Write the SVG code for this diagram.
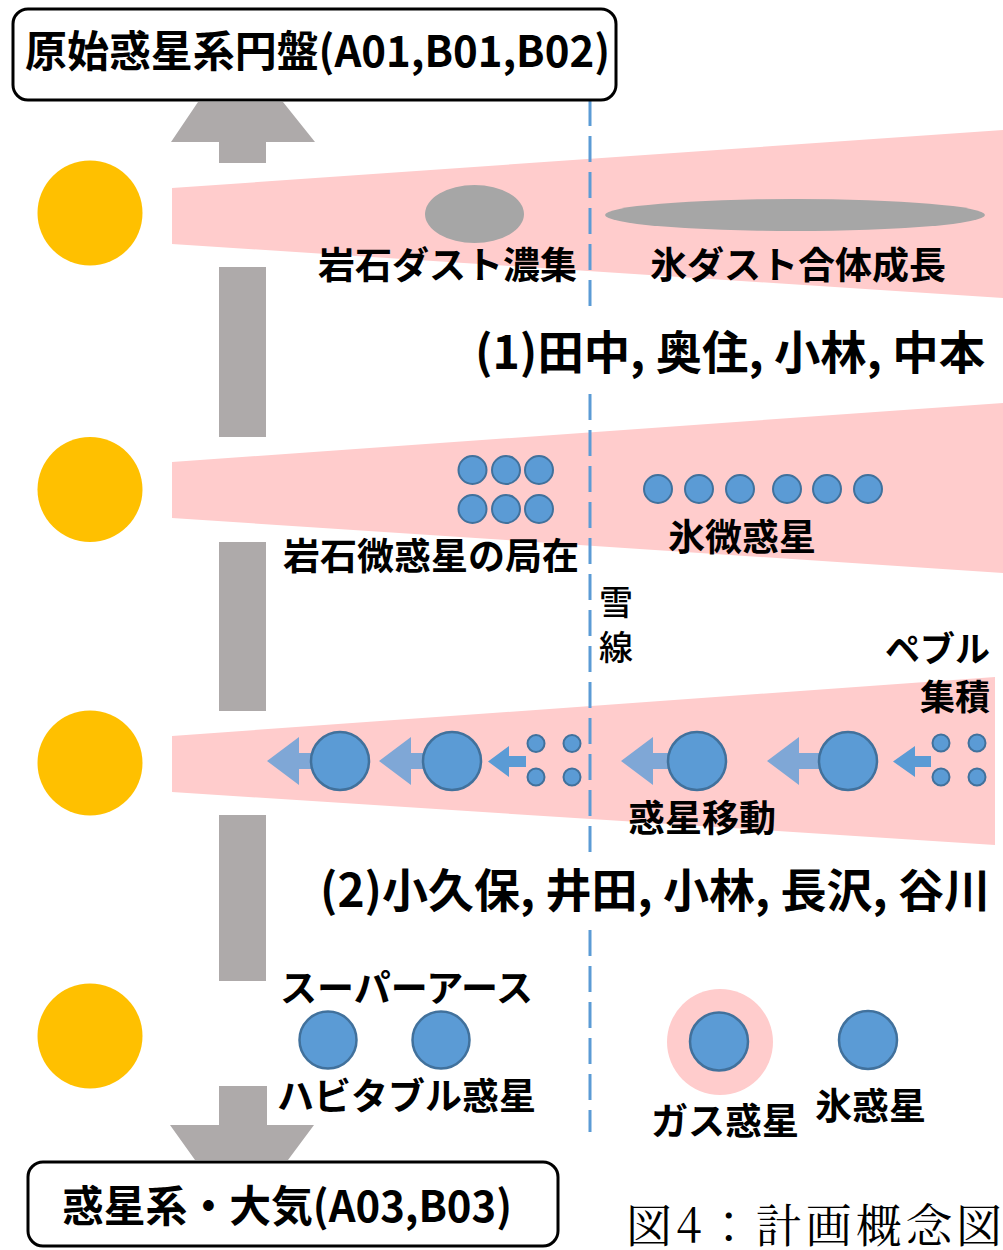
<svg xmlns="http://www.w3.org/2000/svg" width="1003" height="1250" viewBox="0 0 1003 1250">
<defs>
<style>
.t{font-family:"Noto Sans CJK JP","Noto Sans",sans-serif;fill:#000}
.b{font-weight:700}
.lbl{font-size:37px;font-weight:700}
.sun{fill:#FFC000}
.disk{fill:#FFCCCC}
.gr{fill:#AEAAAA}
.pl{fill:#5B9BD5;stroke:#41719C;stroke-width:2.5}
.sp{fill:#5B9BD5;stroke:#41719C;stroke-width:2}
.la{fill:#7FA7D6}
.sa{fill:#5B9BD5}
.dust{fill:#A6A6A6}
.box{fill:#fff;stroke:#000;stroke-width:3}
.snow{fill:none;stroke:#5B9BD5;stroke-width:3;stroke-dasharray:26 10}
</style>
</defs>
<rect width="1003" height="1250" fill="#fff"/>

<!-- pink disks -->
<g id="disk1"><polygon class="disk" points="172,188 1003,130 1003,298 172,244"/></g>
<g id="disk2"><polygon class="disk" points="172,462 1003,403 1003,573 172,518"/></g>
<g id="disk3"><polygon class="disk" points="172,736 995,677 995,845 172,792"/></g>

<!-- suns -->
<g id="sun1"><circle class="sun" cx="90" cy="213" r="52.5"/></g>
<g id="sun2"><circle class="sun" cx="90" cy="489.5" r="52.5"/></g>
<g id="sun3"><circle class="sun" cx="90" cy="763" r="52.5"/></g>
<g id="sun4"><circle class="sun" cx="90" cy="1036" r="52.5"/></g>

<!-- connectors: gray time arrow and snow line -->
<g id="connectors">
<polygon class="gr" points="198,102 283,102 315,142 266,142 266,163 219,163 219,142 171,142"/>
<rect class="gr" x="219" y="267" width="47" height="170"/>
<rect class="gr" x="219" y="542" width="47" height="169"/>
<rect class="gr" x="219" y="815" width="47" height="166"/>
<polygon class="gr" points="219,1086 267,1086 267,1125 314,1125 288,1160 195,1160 170,1125 219,1125"/>
<line class="snow" x1="590" y1="100" x2="590" y2="312"/>
<line class="snow" x1="590" y1="394" x2="590" y2="852"/>
<line class="snow" x1="590" y1="930" x2="590" y2="1132"/>
</g>

<!-- boxes -->
<g id="box-top">
<rect class="box" x="13" y="9" width="603" height="91" rx="15"/>
<text class="t b" x="25" y="67" font-size="43" textLength="585" lengthAdjust="spacingAndGlyphs">原始惑星系円盤(A01,B01,B02)</text>
</g>
<g id="box-bottom">
<rect class="box" x="28" y="1162" width="530" height="84" rx="15"/>
<text class="t b" x="62" y="1222" font-size="43" textLength="450" lengthAdjust="spacingAndGlyphs">惑星系・大気(A03,B03)</text>
</g>

<!-- row 1: dust -->
<g id="rock-dust">
<ellipse class="dust" cx="474.5" cy="214" rx="49.5" ry="29"/>
<text class="t lbl" x="318" y="279">岩石ダスト濃集</text>
</g>
<g id="ice-dust">
<ellipse class="dust" cx="795" cy="215" rx="190" ry="16"/>
<text class="t lbl" x="650" y="279">氷ダスト合体成長</text>
</g>
<g id="team1">
<text class="t b" x="475" y="369" font-size="46" textLength="510" lengthAdjust="spacingAndGlyphs">(1)田中, 奥住, 小林, 中本</text>
</g>

<!-- row 2: planetesimals -->
<g id="rock-planetesimals">
<circle class="sp" cx="472.5" cy="470" r="14"/>
<circle class="sp" cx="506" cy="470" r="14"/>
<circle class="sp" cx="539" cy="470" r="14"/>
<circle class="sp" cx="472.5" cy="509" r="14"/>
<circle class="sp" cx="506" cy="509" r="14"/>
<circle class="sp" cx="539" cy="509" r="14"/>
<text class="t lbl" x="283" y="570">岩石微惑星の局在</text>
</g>
<g id="ice-planetesimals">
<circle class="sp" cx="658" cy="489" r="14"/>
<circle class="sp" cx="699" cy="489" r="14"/>
<circle class="sp" cx="740" cy="489" r="14"/>
<circle class="sp" cx="787" cy="489" r="14"/>
<circle class="sp" cx="827" cy="489" r="14"/>
<circle class="sp" cx="868" cy="489" r="14"/>
<text class="t lbl" x="668" y="551">氷微惑星</text>
</g>
<g id="snowline-label">
<text class="t" x="599" y="615" font-size="34" font-weight="500">雪</text>
<text class="t" x="599" y="660" font-size="34" font-weight="500">線</text>
</g>

<!-- row 3: pebble accretion and migration -->
<g id="pebble-label">
<text class="t b" x="990" y="662" font-size="35" text-anchor="end">ペブル</text>
<text class="t b" x="990" y="710" font-size="35" text-anchor="end">集積</text>
</g>
<g id="migration-inner">
<polygon class="la" points="267,761 299,737 299,753 318,753 318,769 299,769 299,785"/>
<circle class="pl" cx="340" cy="761" r="29"/>
<polygon class="la" points="379,761 411,737 411,753 430,753 430,769 411,769 411,785"/>
<circle class="pl" cx="452" cy="761" r="29"/>
<polygon class="sa" points="488,761.5 509,746 509,756 526,756 526,767 509,767 509,777"/>
<circle class="sp" cx="536" cy="743.5" r="8.5"/>
<circle class="sp" cx="572" cy="743.5" r="8.5"/>
<circle class="sp" cx="536" cy="777" r="8.5"/>
<circle class="sp" cx="572" cy="777" r="8.5"/>
</g>
<g id="migration-outer">
<polygon class="la" points="621,761 653,737 653,753 672,753 672,769 653,769 653,785"/>
<circle class="pl" cx="697" cy="761" r="29"/>
<polygon class="la" points="767,761 799,737 799,753 822,753 822,769 799,769 799,785"/>
<circle class="pl" cx="848" cy="761" r="29"/>
<polygon class="sa" points="893,761.5 915,746 915,756 931,756 931,767 915,767 915,777"/>
<circle class="sp" cx="941" cy="743" r="8.5"/>
<circle class="sp" cx="977" cy="743" r="8.5"/>
<circle class="sp" cx="941" cy="777" r="8.5"/>
<circle class="sp" cx="977" cy="777" r="8.5"/>
<text class="t lbl" x="628" y="832">惑星移動</text>
</g>
<g id="team2">
<text class="t b" x="320" y="907" font-size="46" textLength="670" lengthAdjust="spacingAndGlyphs">(2)小久保, 井田, 小林, 長沢, 谷川</text>
</g>

<!-- row 4: planets -->
<g id="super-earths">
<text class="t lbl" x="280" y="1002">スーパーアース</text>
<circle class="pl" cx="328" cy="1040" r="28.5"/>
<circle class="pl" cx="441" cy="1040" r="28.5"/>
<text class="t lbl" x="277" y="1110">ハビタブル惑星</text>
</g>
<g id="gas-planet">
<circle class="disk" cx="720" cy="1042" r="53"/>
<circle class="pl" cx="719" cy="1041.5" r="29"/>
<text class="t lbl" x="651" y="1135">ガス惑星</text>
</g>
<g id="ice-planet">
<circle class="pl" cx="868" cy="1040" r="29"/>
<text class="t lbl" x="815" y="1120">氷惑星</text>
</g>

<g id="caption">
<text x="626" y="1242" font-size="46" font-family="'Noto Serif CJK JP','Noto Sans CJK JP',serif" textLength="376" lengthAdjust="spacing">図4：計画概念図</text>
</g>
</svg>
